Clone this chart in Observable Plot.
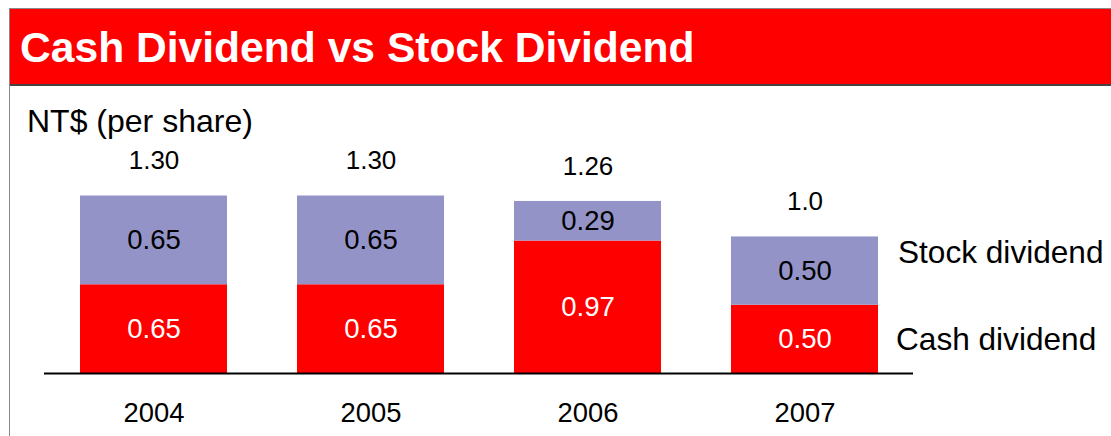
<!DOCTYPE html>
<html><head><meta charset="utf-8">
<script src="https://cdn.jsdelivr.net/npm/d3@7"></script>
<script src="https://cdn.jsdelivr.net/npm/@observablehq/plot@0.6"></script>
<style>
body{margin:0;background:#fff;font-family:Arial,"Liberation Sans",sans-serif;}
#wrap{position:relative;width:1111px;height:436px;overflow:hidden;background:#fff;}
#frame{position:absolute;left:9px;top:8px;width:1110px;height:440px;border-top:1px solid #8a8a8a;border-left:1px solid #8a8a8a;}
#header{position:absolute;left:10px;top:9px;width:1101px;height:77px;background:#ff0000;border-bottom:2px solid #444;box-sizing:border-box;}
#title{position:absolute;left:10px;top:17px;color:#fff;font-weight:bold;font-size:42.6px;line-height:42px;white-space:nowrap;}
#unit{position:absolute;left:27px;top:105px;font-size:32px;line-height:32px;color:#000;white-space:nowrap;}
#chart{position:absolute;left:0;top:86px;}
</style>
</head><body>
<div id="wrap">
  <div id="frame"></div>
  <div id="header"><div id="title">Cash Dividend vs Stock Dividend</div></div>
  <div id="unit">NT$ (per share)</div>
  <div id="chart"></div>
</div>
<script>
const years = ["2004", "2005", "2006", "2007"];
const cash = [0.65, 0.65, 0.97, 0.50];
const stock = [0.65, 0.65, 0.29, 0.50];
const totalLabels = ["1.30", "1.30", "1.26", "1.0"];
const seriesNames = ["Cash dividend", "Stock dividend"];
const seriesColors = ["#ff0000", "#9393c8"];

const rows = years.flatMap((yr, i) => [
  {year: yr, series: seriesNames[0], lo: 0, hi: cash[i], value: cash[i]},
  {year: yr, series: seriesNames[1], lo: cash[i], hi: cash[i] + stock[i], value: stock[i]}
]);
const totals = years.map((yr, i) => ({year: yr, top: cash[i] + stock[i], label: totalLabels[i]}));
const last = years[years.length - 1];
const lastRows = rows.filter(d => d.year === last);
const mid = d => (d.lo + d.hi) / 2;

const chart = Plot.plot({
  width: 1111,
  height: 350,
  marginLeft: 44,
  marginRight: 198,
  marginTop: 109.5,
  marginBottom: 63,
  style: {fontFamily: "Arial, 'Liberation Sans', sans-serif", background: "transparent", color: "#000"},
  x: {domain: years, paddingInner: 0.3235, paddingOuter: 0.161, label: null},
  y: {domain: [0, 1.3], axis: null},
  color: {domain: seriesNames, range: seriesColors},
  marks: [
    Plot.barY(rows, {x: "year", y1: "lo", y2: "hi", fill: "series"}),
    Plot.text(rows.filter(d => d.series === seriesNames[0]), {x: "year", y: mid, text: d => d.value.toFixed(2), fill: "white", fontSize: 27.5}),
    Plot.text(rows.filter(d => d.series === seriesNames[1]), {x: "year", y: mid, text: d => d.value.toFixed(2), fill: "black", fontSize: 27.5}),
    Plot.text(totals, {x: "year", y: "top", text: "label", dy: -35, fill: "black", fontSize: 26}),
    Plot.text(lastRows.filter(d => d.series === seriesNames[1]), {x: "year", y: mid, text: "series", dx: 93, dy: -18, textAnchor: "start", fill: "black", fontSize: 31.6}),
    Plot.text(lastRows.filter(d => d.series === seriesNames[0]), {x: "year", y: mid, text: "series", dx: 91, dy: 1, textAnchor: "start", fill: "black", fontSize: 31.6}),
    Plot.ruleY([0], {stroke: "black", strokeWidth: 2}),
    Plot.axisX({tickSize: 0, tickPadding: 29, fontSize: 27.4, color: "black", label: null})
  ]
});
document.getElementById("chart").appendChild(chart);
</script>
</body></html>
